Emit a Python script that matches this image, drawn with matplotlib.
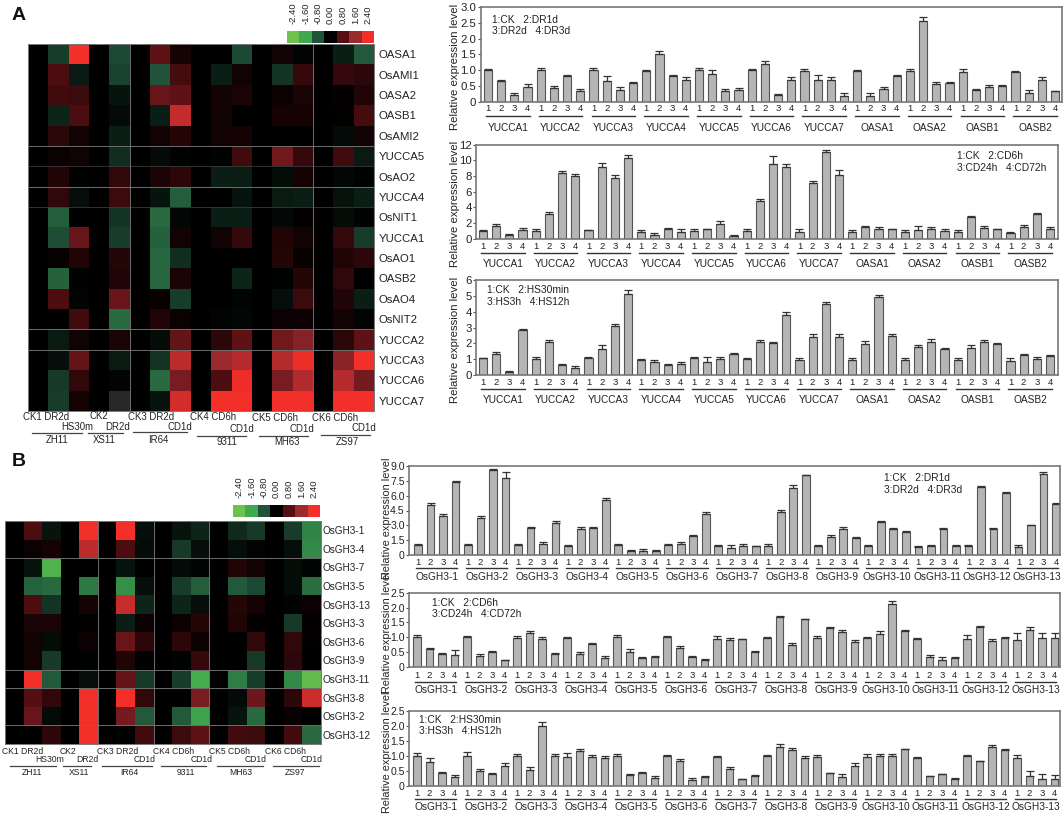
import numpy as np
import matplotlib
matplotlib.use('Agg')
import matplotlib.pyplot as plt
from matplotlib.colors import LinearSegmentedColormap

plt.rcParams['font.family'] = ['Liberation Sans', 'DejaVu Sans']

W, H = 1063, 817

# colour scale
scale_values = [-2.4, -1.6, -0.8, 0.0, 0.8, 1.6, 2.4]
scale_colors = ['#6EC14A', '#3FA950', '#20533A', '#000000', '#560F12', '#9A2A30', '#F22F28']

# heatmap A
rows_a = ['OASA1', 'OsAMI1', 'OASA2', 'OASB1', 'OsAMI2', 'YUCCA5', 'OsAO2', 'YUCCA4', 'OsNIT1',
          'YUCCA1', 'OsAO1', 'OASB2', 'OsAO4', 'OsNIT2', 'YUCCA2', 'YUCCA3', 'YUCCA6', 'YUCCA7']
heat_a = [
    [0, -.6, 2.4, 0, -.7, 0, .9, .2, 0, 0, -.7, 0, .15, -.05, 0, -.3, -.85],
    [0, .7, -.25, 0, -.65, 0, -.8, .65, 0, -.3, .15, 0, -.5, .5, 0, .5, .4],
    [0, .6, .55, 0, -.2, 0, 1.0, .9, 0, .2, .25, 0, .1, .25, 0, .05, .3],
    [0, -.35, .7, 0, -.1, 0, -.3, 1.95, 0, .15, 0, 0, .2, .2, 0, .03, .65],
    [0, .4, .15, 0, -.3, 0, .15, .35, 0, .15, .2, 0, 0, 0, 0, -.1, .15],
    [0, .1, .15, 0, -.45, 0, -.1, -.03, 0, -.03, .6, 0, 1.1, .5, 0, .6, -.25],
    [0, .3, -.03, 0, .45, 0, .25, .4, 0, -.3, -.3, 0, -.12, .2, 0, -.07, -.02],
    [0, .45, -.15, 0, .55, 0, -.2, -.9, 0, 0, -.2, 0, -.25, -.3, 0, -.18, -.3],
    [0, -.9, 0, 0, -.5, 0, -1.0, -.07, 0, -.3, -.3, 0, -.08, .05, 0, -.12, -.02],
    [0, -.75, 1.0, 0, -.6, 0, -.93, .15, 0, .15, .5, 0, .3, .15, 0, .5, -.6],
    [0, .07, .3, 0, .35, 0, -.98, -.45, 0, 0, 0, 0, .35, .06, 0, .3, .4],
    [0, -.93, -.02, 0, .3, 0, -.98, .25, 0, 0, -.35, 0, -.03, .35, 0, .45, 0],
    [0, .7, -.05, 0, 1.0, 0, .08, -.6, 0, 0, -.05, 0, -.15, .55, 0, .3, -.3],
    [0, 0, .6, 0, -1.0, 0, .3, .1, 0, -.05, -.07, 0, .1, .1, 0, .15, -.05],
    [0, -.25, .15, 0, .25, 0, -.12, .95, 0, .4, .9, 0, 1.1, 1.35, 0, .4, .9],
    [0, -.15, .95, 0, -.25, 0, -.5, 1.9, 0, 1.6, 1.85, 0, 1.85, 2.35, 0, 1.4, 2.4],
    [0, -.55, .45, 0, -.05, 0, -1.0, 1.2, 0, .7, 2.35, 0, 1.2, 1.8, 0, 1.85, 1.15],
    [0, -.6, .2, 0, np.nan, 0, -.2, 2.1, 0, 2.4, 2.4, 0, 2.4, 2.4, 0, 2.4, 2.4],
]

# heatmap B
rows_b = ['OsGH3-1', 'OsGH3-4', 'OsGH3-7', 'OsGH3-5', 'OsGH3-13', 'OsGH3-3', 'OsGH3-6', 'OsGH3-9',
          'OsGH3-11', 'OsGH3-8', 'OsGH3-2', 'OsGH3-12']
heat_b = [
    [0, .7, -.2, 0, 2.4, 0, 2.4, -.15, 0, -.2, -.35, 0, -.4, -.55, 0, -.6, -1.25],
    [0, .1, .2, 0, 1.9, 0, .7, -.12, 0, -.55, -.15, 0, -.15, -.05, 0, -.15, -1.3],
    [0, -.2, -1.9, 0, 0, 0, -.2, 0, 0, -.1, -.05, 0, .3, .15, 0, -.12, -.05],
    [0, -.95, -1.0, 0, -1.15, 0, -1.35, -.15, 0, -.6, -.9, 0, -.85, -.7, 0, -.12, -1.05],
    [0, .7, -.5, 0, .2, 0, 2.0, -.35, 0, -.35, -.15, 0, .35, .2, 0, -.02, .1],
    [0, .25, .25, 0, .03, 0, -.3, .1, 0, .1, .35, 0, .3, .05, 0, -.55, .05],
    [0, .15, -.12, 0, .1, 0, 1.0, .4, 0, .4, .12, 0, 0, .45, 0, .45, .03],
    [0, .2, -.55, 0, -.03, 0, .3, -.02, 0, -.02, .5, 0, 0, -.55, 0, .4, .01],
    [0, 2.4, -.85, 0, -.15, 0, .95, -.55, 0, -.6, -1.75, 0, -1.2, -.6, 0, -1.3, -2.2],
    [0, .8, .45, 0, 2.4, 0, 2.4, .45, 0, 0, 1.2, 0, -.1, 1.05, 0, .4, 2.05],
    [0, 1.0, -.1, 0, 2.4, 0, 1.15, -.85, 0, -.85, -1.55, 0, -.2, -1.0, 0, .08, .01],
    [0, 0, .4, 0, 2.4, 0, -.03, .6, 0, .55, .9, 0, .6, .55, 0, .6, -1.0],
]

# bar charts, panel A
genes_a = ['YUCCA1', 'YUCCA2', 'YUCCA3', 'YUCCA4', 'YUCCA5', 'YUCCA6', 'YUCCA7', 'OASA1', 'OASA2', 'OASB1', 'OASB2']

dr_a = [[1.0, .65, .22, .47], [1.0, .42, .8, .33], [1.0, .67, .37, .58], [.97, 1.52, .8, .7],
        [1.0, .88, .33, .37], [1.0, 1.2, .2, .7], [.97, .7, .7, .18], [.97, .18, .4, .8],
        [.97, 2.55, .55, .58], [.95, .37, .45, .5], [.93, .27, .7, .33]]
dr_a_err = [[.05, .03, .05, .1], [.07, .07, .04, .08], [.07, .15, .08, .03], [.05, .08, .04, .07],
            [.06, .14, .08, .06], [.05, .08, .04, .07], [.07, .14, .07, .1], [.05, .08, .07, .05],
            [.07, .13, .08, .03], [.08, .03, .07, .04], [.05, .1, .07, .01]]

cd_a = [[1.0, 1.6, .45, 1.15], [1.0, 3.2, 8.4, 8.0], [1.05, 9.1, 7.8, 10.3], [.85, .45, 1.3, .9],
        [1.0, 1.25, 1.9, .4], [1.0, 4.85, 9.6, 9.2], [.9, 7.05, 11.05, 8.15], [.9, 1.5, 1.25, 1.25],
        [.9, 1.15, 1.25, 1.0], [.9, 2.75, 1.4, 1.25], [.75, 1.45, 3.15, 1.3]]
cd_a_err = [[.15, .3, .15, .2], [.25, .25, .2, .3], [.1, .55, .3, .35], [.3, .3, .1, .3],
            [.25, .05, .3, .05], [.3, .25, 1.0, .3], [.3, .3, .3, .65], [.2, .1, .25, .05],
            [.25, .5, .3, .2], [.2, .15, .25, .05], [.15, .3, .15, .15]]

hs_a = [[1.05, 1.35, .22, 2.85], [1.03, 2.1, .65, .42], [1.05, 1.65, 3.1, 5.15], [.95, .85, .65, .7],
        [1.05, .85, 1.0, 1.33], [1.03, 2.1, 2.03, 3.8], [.97, 2.42, 4.5, 2.4], [.95, 1.95, 4.97, 2.5],
        [.95, 1.75, 2.12, 1.63], [.97, 1.68, 2.1, 1.97], [.9, 1.27, 1.03, 1.2]]
hs_a_err = [[.05, .12, .05, .08], [.08, .12, .05, .18], [.1, .28, .15, .25], [.08, .13, .05, .12],
            [.1, .28, .13, .05], [.07, .12, .05, .2], [.12, .15, .15, .2], [.1, .2, .12, .07],
            [.15, .15, .15, .05], [.08, .2, .13, .07], [.15, .07, .1, .05]]

# bar charts, panel B
genes_b = ['OsGH3-%d' % i for i in range(1, 14)]

dr_b = [[1.0, 5.05, 3.98, 7.35], [1.0, 3.77, 8.6, 7.75], [1.0, 2.7, 1.08, 3.27], [.95, 2.6, 2.7, 5.56],
        [1.0, .4, .4, .4], [1.0, 1.1, 1.95, 4.1], [.9, .75, .95, .9], [.95, 4.3, 6.75, 8.05],
        [.9, 1.8, 2.63, 1.75], [.9, 3.35, 2.6, 2.35], [.85, .95, 2.63, .95], [.9, 6.85, 2.63, 6.3],
        [.85, 3.03, 8.2, 5.2]]
dr_b_err = [[.1, .25, .12, .12], [.1, .2, .1, .6], [.15, .12, .2, .15], [.08, .2, .12, .2],
            [.15, .15, .2, .07], [.08, .2, .1, .2], [.15, .3, .15, .05], [.15, .25, .3, .08],
            [.15, .2, .2, .05], [.15, .08, .15, .03], [.1, .05, .15, .08], [.12, .15, .15, .1],
            [.12, .05, .15, .05]]

cd_b = [[1.0, .62, .43, .4], [1.0, .38, .51, .24], [.98, 1.14, .93, .43], [.98, .45, .78, .29],
        [1.0, .5, .29, .34], [1.0, .65, .33, .24], [.95, .9, .93, .52], [.96, 1.67, .74, 1.6],
        [.96, 1.3, 1.18, .83], [.96, 1.1, 2.13, 1.2], [.94, .32, .24, .31], [.95, 1.34, .86, .97],
        [.92, 1.24, .97, .96]]
cd_b_err = [[.07, .02, .03, .17], [.03, .07, .03, .01], [.07, .08, .08, .03], [.02, .05, .03, .08],
            [.07, .09, .05, .02], [.03, .06, .04, .02], [.08, .08, .01, .02], [.06, .03, .07, .03],
            [.08, .05, .08, .08], [.05, .1, .1, .03], [.05, .08, .08, .03], [.12, .03, .08, .04],
            [.22, .12, .18, .2]]

hs_b = [[1.0, .8, .43, .28], [1.0, .49, .39, .66], [1.0, .53, 2.0, 1.0], [.97, 1.15, .97, .92],
        [1.0, .35, .42, .26], [1.0, .83, .19, .28], [.97, .57, .21, .34], [.98, 1.28, 1.18, .92],
        [.97, .41, .29, .65], [.97, .98, .98, 1.21], [.94, .33, .39, .22], [.98, .81, 1.28, 1.19],
        [.92, .33, .23, .21]]
hs_b_err = [[.08, .12, .04, .08], [.11, .07, .03, .09], [.07, .08, .14, .07], [.13, .06, .07, .07],
            [.07, .04, .05, .07], [.01, .07, .08, .04], [.01, .04, .01, .02], [.03, .1, .07, .07],
            [.07, .03, .09, .1], [.1, .07, .08, .02], [.01, .01, .01, .03], [.03, .03, .08, .03],
            [.1, .15, .17, .15]]

cmap = LinearSegmentedColormap.from_list('rg', list(zip((np.array(scale_values) + 2.4) / 4.8, scale_colors)))
cmap.set_bad('#2A2728')

fig = plt.figure(figsize=(W / 100, H / 100), dpi=100)


def px_axes(l, t, r, b):
    return fig.add_axes([l / W, 1 - b / H, (r - l) / W, (b - t) / H])


def draw_heat(box, data, rows, hlines, faint, vlines, fs, pad):
    ax = px_axes(*box)
    ax.imshow(np.array(data), cmap=cmap, vmin=-2.4, vmax=2.4, aspect='auto', interpolation='nearest')
    ax.set_xticks([])
    ax.set_yticks(range(len(rows)))
    ax.set_yticklabels(rows, fontsize=fs, color='#222222')
    ax.yaxis.tick_right()
    ax.tick_params(axis='y', length=0, pad=pad)
    for s in ax.spines.values():
        s.set_color('#777777')
        s.set_linewidth(0.7)
    for y in hlines:
        ax.axhline(y - 0.5, color='#6E6E6E', lw=0.7)
    for y in faint:
        ax.axhline(y - 0.5, color='#3A3A3A', lw=0.6)
    for x in vlines:
        ax.axvline(x - 0.5, color='#6E6E6E', lw=0.7)


def draw_scale(box, fs):
    ax = px_axes(*box)
    ax.imshow(np.array([scale_values]), cmap=cmap, vmin=-2.4, vmax=2.4, aspect='auto', interpolation='nearest')
    ax.set_yticks([])
    ax.xaxis.tick_top()
    ax.set_xticks(range(len(scale_values)))
    ax.set_xticklabels(['%.2f' % v for v in scale_values], rotation=90, fontsize=fs, color='#222222')
    ax.tick_params(axis='x', length=0, pad=5)
    for s in ax.spines.values():
        s.set_visible(False)


def draw_bars(box, first, last, values, errs, genes, yticks, ylabels, legend, num_y, line_y, gene_y,
              label_x, label_y, tick_fs, label_fs):
    l, t, r, b = box
    ax = px_axes(l, t, r, b)
    vals = np.array(values).ravel()
    err = np.array(errs).ravel()
    n = len(vals)
    pitch = (last - first) / (n - 1)
    x = np.arange(n)
    ax.bar(x, vals, width=0.62, color='#B5B5B5', edgecolor='#555555', linewidth=0.8,
           yerr=[np.zeros(n), err], error_kw=dict(ecolor='#333333', elinewidth=0.9, capsize=2.9, capthick=0.9))
    ax.set_xlim((l - first) / pitch, (r - first) / pitch)
    ax.set_ylim(yticks[0], yticks[-1])
    ax.set_yticks(yticks)
    ax.set_yticklabels(ylabels, fontsize=tick_fs, color='#222222')
    ax.set_xticks(x)
    ax.set_xticklabels(['1', '2', '3', '4'] * len(genes), fontsize=6.8, color='#222222')
    ax.tick_params(axis='x', length=0, pad=(num_y - 3.5 - b) * 0.72)
    ax.tick_params(axis='y', length=2.5, width=0.8, pad=0.5, color='#555555')
    for s in ax.spines.values():
        s.set_color('#777777')
        s.set_linewidth(1.2)
    ax.set_ylabel('Relative expression level', fontsize=label_fs, color='#222222')
    ax.yaxis.set_label_coords((label_x - l) / (r - l), (b - label_y) / (b - t))
    trans = ax.get_xaxis_transform()
    for i, g in enumerate(genes):
        c = 4 * i + 1.5
        ax.plot([c - 1.65, c + 1.65], [(b - line_y) / (b - t)] * 2, transform=trans, clip_on=False,
                color='#333333', lw=1)
        ax.text(c, (b - gene_y) / (b - t), g, transform=trans, ha='center', va='center', fontsize=7.3, color='#222222')
    for (tx, ty, s) in legend:
        ax.text((tx - l) / (r - l), (b - ty) / (b - t), s, transform=ax.transAxes, ha='left', va='center',
                fontsize=7.4, color='#222222')


# heatmaps
draw_heat((28, 44, 374, 411), heat_a, rows_a, [5, 7, 14, 15], [6, 8], [5, 14], 8.2, 3.5)
draw_heat((5, 521, 321, 744), heat_b, rows_b, [2, 8, 9, 11], [], [5, 8, 11], 7.2, 1)
draw_scale((287, 31, 374, 43), 6.8)
draw_scale((233, 505, 320, 517), 6.8)

# bar charts
draw_bars((480.5, 7, 1062, 101.7), 488, 1055, dr_a, dr_a_err, genes_a, [0, .5, 1, 1.5, 2, 2.5, 3],
          ['0', '0.5', '1.0', '1.5', '2.0', '2.5', '3.0'],
          [(492, 20, '1:CK   2:DR1d'), (492, 31, '3:DR2d   4:DR3d')], 108, 116, 127.7, 460, 67, 8.2, 8.2)
draw_bars((476, 144.7, 1058, 238.7), 483, 1050, cd_a, cd_a_err, genes_a, [0, 2, 4, 6, 8, 10, 12],
          ['0', '2', '4', '6', '8', '10', '12'],
          [(957, 156, '1:CK   2:CD6h'), (957, 168, '3:CD24h   4:CD72h')], 245.7, 253, 264, 460, 204, 8.2, 8.2)
draw_bars((476, 280.3, 1058, 375), 483, 1050, hs_a, hs_a_err, genes_a, [0, 1, 2, 3, 4, 5, 6],
          ['0', '1', '2', '3', '4', '5', '6'],
          [(487, 290, '1:CK   2:HS30min'), (487, 301.7, '3:HS3h   4:HS12h')], 381.7, 389, 400, 460, 340, 8.2, 8.2)
draw_bars((409, 466, 1060, 555), 418, 1056, dr_b, dr_b_err, genes_b, [0, 1.5, 3, 4.5, 6, 7.5, 9],
          ['0', '1.5', '3.0', '4.5', '6.0', '7.5', '9.0'],
          [(884.5, 478, '1:CK   2:DR1d'), (884.5, 489.7, '3:DR2d   4:DR3d')], 561.7, 568, 576.7, 392, 518, 7.6, 7.8)
draw_bars((409, 592.7, 1060, 667), 417, 1054.5, cd_b, cd_b_err, genes_b, [0, .5, 1, 1.5, 2, 2.5],
          ['0', '0.5', '1.0', '1.5', '2.0', '2.5'],
          [(432, 602.7, '1:CK   2:CD6h'), (432, 614, '3:CD24h   4:CD72h')], 674, 681.7, 690, 392, 632, 7.6, 7.8)
draw_bars((409, 710.7, 1060, 785.7), 417, 1054.5, hs_b, hs_b_err, genes_b, [0, .5, 1, 1.5, 2, 2.5],
          ['0', '0.5', '1.0', '1.5', '2.0', '2.5'],
          [(419, 720, '1:CK   2:HS30min'), (419, 731, '3:HS3h   4:HS12h')], 792, 799, 807, 392, 752, 7.6, 7.8)

# overlay in pixel coordinates for the panel letters and the heatmap captions
over = fig.add_axes([0, 0, 1, 1])
over.set_xlim(0, W)
over.set_ylim(H, 0)
over.axis('off')
over.patch.set_alpha(0)

over.text(12, 15, 'A', fontsize=14, fontweight='bold', ha='left', va='center', color='#111111')
over.text(12, 461, 'B', fontsize=14, fontweight='bold', ha='left', va='center', color='#111111')

# (text, left, y)
captions_a = [('CK1 DR2d', 23, 417), ('HS30m', 61, 426.7), ('CK2', 90, 416), ('DR2d', 105, 426.7),
              ('CK3 DR2d', 128, 417), ('CD1d', 167, 426.7), ('CK4 CD6h', 190, 417), ('CD1d', 229, 429),
              ('CK5 CD6h', 252, 418), ('CD1d', 289, 429), ('CK6 CD6h', 312, 418), ('CD1d', 352, 428)]
# (text, centre, line left, line right, line y, text y)
groups_a = [('ZH11', 57, 32, 82, 432.7, 440), ('XS11', 104, 88, 123, 432.7, 440), ('IR64', 158, 133, 187, 431.7, 439.7),
            ('9311', 227, 197, 246, 435.6, 442), ('MH63', 287, 259, 308, 435.6, 442), ('ZS97', 347, 321, 370, 434.6, 442)]
captions_b = [('CK1 DR2d', 2, 751), ('HS30m', 35, 759), ('CK2', 60, 751), ('DR2d', 76, 759),
              ('CK3 DR2d', 97, 751), ('CD1d', 134, 759), ('CK4 CD6h', 153, 751), ('CD1d', 191, 759),
              ('CK5 CD6h', 209, 751), ('CD1d', 245, 759), ('CK6 CD6h', 265, 751), ('CD1d', 301, 759)]
groups_b = [('ZH11', 32, 10, 56, 765.7, 772.7), ('XS11', 79, 63, 91, 765.7, 772.7), ('IR64', 129, 102, 152, 765.7, 772.7),
            ('9311', 186, 161, 206, 765.7, 772.7), ('MH63', 241, 217, 263, 765.7, 772.7), ('ZS97', 295, 273, 319, 765.7, 772.7)]

for caps, grps, fs in [(captions_a, groups_a, 6.9), (captions_b, groups_b, 6.2)]:
    for s, x, y in caps:
        over.text(x, y, s, fontsize=fs, ha='left', va='center', color='#222222')
    for s, c, x0, x1, ly, ty in grps:
        over.plot([x0, x1], [ly, ly], color='#444444', lw=0.9)
        over.text(c, ty, s, fontsize=fs, ha='center', va='center', color='#222222')

fig.savefig('out.png', dpi=100)
